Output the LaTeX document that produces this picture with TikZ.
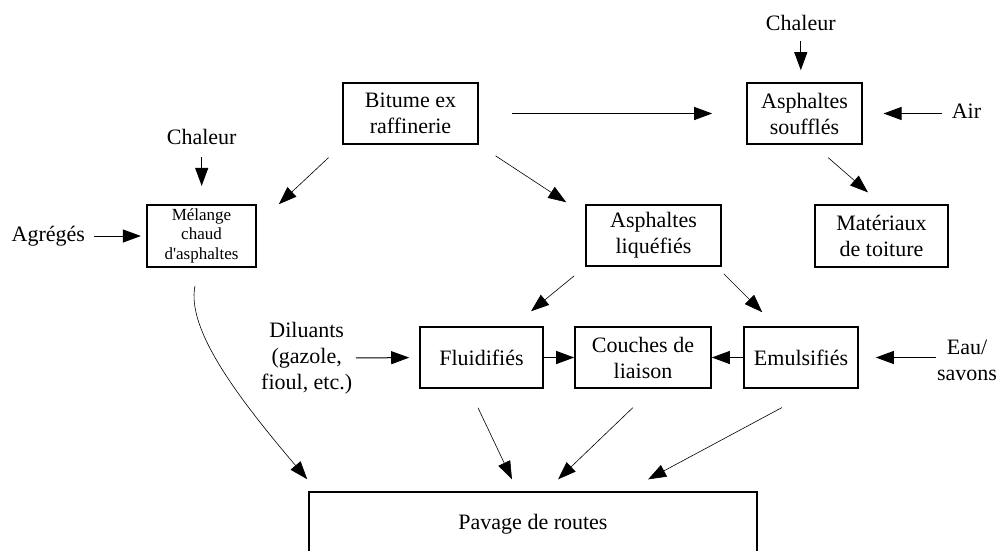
\documentclass[tikz,border=0pt]{standalone}
\usepackage{fontspec}
\setmainfont{Liberation Serif}[Ligatures=TeXOff]
\usetikzlibrary{arrows.meta}
\tikzset{
  box/.style={draw, line width=1.6pt, align=center, inner sep=0pt, font=\fontsize{22}{26}\selectfont},
  lbl/.style={align=center, inner sep=0pt, font=\fontsize{22}{26}\selectfont},
  arr/.style={line width=1pt, -{Triangle[length=18pt,width=13pt]}},
  darr/.style={line width=0.6pt, -{Triangle[length=18pt,width=13pt]}},
}
\begin{document}
\begin{tikzpicture}[x=1pt,y=-1pt]
\clip (0,0) rectangle (1000,550);
% boxes
\node[box,minimum width=135pt,minimum height=61pt] (bit) at (410.5,113.5) {Bitume ex\\raffinerie};
\node[box,minimum width=109pt,minimum height=62pt,font=\fontsize{17}{19.5}\selectfont,text depth=4pt] (mel) at (201.5,236) {\rule{0pt}{10pt}Mélange\\chaud\\d'asphaltes};
\node[box,minimum width=115pt,minimum height=61pt] (sou) at (804.5,113.5) {Asphaltes\\soufflés};
\node[box,minimum width=135pt,minimum height=61pt] (liq) at (653.5,235.5) {Asphaltes\\liquéfiés};
\node[box,minimum width=133pt,minimum height=62pt] (mat) at (881.5,236) {Matériaux\\de toiture};
\node[box,minimum width=123pt,minimum height=61pt] (flu) at (481.5,357.5) {Fluidifiés};
\node[box,minimum width=136pt,minimum height=61pt] (cou) at (643,357.5) {Couches de\\liaison};
\node[box,minimum width=114pt,minimum height=61pt] (emu) at (801,357.5) {Emulsifiés};
\node[box,minimum width=448pt,minimum height=64pt] (pav) at (533,524) {Pavage de routes};
% labels
\node[lbl] (chal1) at (201.7,136.5) {Chaleur};
\node[lbl] (agr) at (48.3,236) {Agrégés};
\node[lbl] (chal2) at (800.8,22.5) {Chaleur};
\node[lbl] (air) at (966.5,111) {Air};
\node[lbl] (dil) at (306.7,358) {Diluants\\(gazole,\\fioul, etc.)};
\node[lbl] (eau) at (967,360) {Eau/\\savons};
% short arrows
\draw[arr,shorten <=12.7pt,shorten >=18.3pt] (chal1.south) -- (chal1.south |- mel.north);
\draw[arr,shorten <=9pt,shorten >=5.3pt] (agr.east) -- (agr.east -| mel.west);
\draw[arr,shorten <=11pt,shorten >=12pt] (chal2.south) -- (chal2.south |- sou.north);
\draw[arr,shorten <=10pt,shorten >=20.7pt] (sou.east -| air.west) -- (sou.east);
\draw[arr,shorten <=33pt,shorten >=34pt] (bit.east) -- (sou.west);
\draw[arr,shorten <=3.4pt,shorten >=10pt] (dil.east) -- (flu.west);
\draw[arr] (flu.east) -- (cou.west);
\draw[arr] (emu.west) -- (cou.east);
\draw[arr,shorten <=1.3pt,shorten >=17pt] (emu.east -| eau.west) -- (emu.east);
% diagonal arrows
\draw[darr,shorten <=18.7pt] (bit.south west) -- ([xshift=22pt]mel.north east);
\draw[darr,shorten <=20pt,shorten >=3.6pt] (bit.south east) -- ([xshift=-16pt]liq.north west);
\draw[darr,shorten <=19.5pt,shorten >=18pt] ([xshift=9pt]sou.south) -- (mat.north);
\draw[darr,shorten <=14.2pt,shorten >=23.6pt] (liq.south west) -- ([xshift=-31pt]flu.north east);
\draw[darr,shorten <=9.9pt,shorten >=19.8pt] ([xshift=-5pt]liq.south east) -- ([xshift=33pt]emu.north west);
\draw[darr,shorten <=21pt,shorten >=13.2pt] ([xshift=-12.5pt]flu.south) -- ([xshift=-15.4pt]pav.north);
\draw[darr,shorten <=27.2pt,shorten >=17.2pt] ([xshift=9.5pt]cou.south) -- ([xshift=12.7pt]pav.north);
\draw[darr,shorten <=39.7pt,shorten >=25.1pt] ([xshift=15.9pt]emu.south) -- ([xshift=93pt]pav.north);
\draw[darr] ([xshift=-6.5pt,yshift=-18pt]mel.south) .. controls (186,330) and (240,400) .. ([xshift=-1pt,yshift=12pt]pav.north west);
\end{tikzpicture}
\end{document}
